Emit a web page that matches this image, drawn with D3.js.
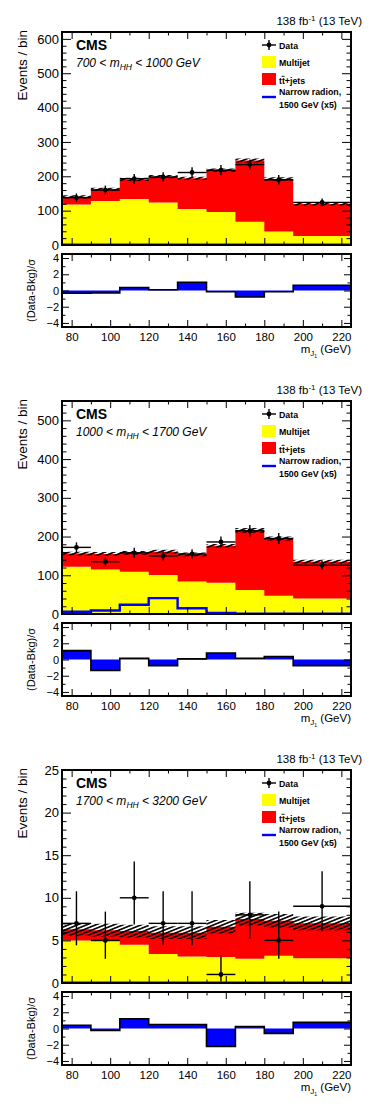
<!DOCTYPE html>
<html>
<head>
<meta charset="UTF-8">
<title>CMS m_J distributions</title>
<script src="https://d3js.org/d3.v7.min.js"></script>
<style>
    body { margin: 0; background: #fff; }
    svg { display: block; font-family: "Liberation Sans", Arial, Helvetica, sans-serif; }
    .axis path { display: none; }
    .axis line { stroke: #000; stroke-width: 1; }
    .axis text { fill: #000; font-family: "Liberation Sans", Arial, sans-serif; }
</style>
</head>
<body>
<svg id="chart" width="374" height="1109"></svg>
<script>
// ---------- data ----------
const binEdges = [75, 90, 105, 120, 135, 150, 165, 180, 195, 225];   // m_J bins (GeV)
const mhhRanges = [[700, 1000], [1000, 1700], [1700, 3200]];

// 700 < mHH < 1000
const multijetA = [118, 128, 134, 124, 105, 96, 68, 39, 26];
const ttbarA    = [22, 34, 57, 75, 89, 122, 178, 153, 93];
const bkgUncA   = [5, 5, 5, 5, 5, 5, 6, 5, 5];
const signalA   = [0.8, 0.8, 0.8, 0.8, 0.8, 0.8, 0.8, 0.8, 0.8];
const dataA     = [138, 160, 193, 198, 211, 218, 234, 190, 124];
const dataLoA   = [126, 147, 179, 184, 196, 203, 219, 176, 113];
const dataHiA   = [150, 173, 207, 212, 226, 233, 249, 204, 135];
const pullA     = [-0.33, -0.3, 0.37, 0.1, 1.02, -0.15, -0.8, -0.15, 0.65];

// 1000 < mHH < 1700
const multijetB = [122, 115, 109, 101, 84, 81, 62, 47, 40];
const ttbarB    = [34, 40, 49, 60, 70, 95, 154, 148, 95];
const bkgUncB   = [5, 5, 5, 5, 5, 5, 6, 5, 5];
const signalB   = [6, 9, 24, 41, 15, 3, 0.5, 0.5, 0.5];
const dataB     = [172, 135, 158, 150, 155, 186, 215, 195, 126];
const dataLoB   = [159, 123, 145, 138, 143, 172, 200, 181, 115];
const dataHiB   = [185, 147, 171, 162, 167, 200, 230, 209, 137];
const pullB     = [1.1, -1.35, 0.15, -0.75, 0.08, 0.8, 0.15, 0.37, -0.75];

// 1700 < mHH < 3200
const multijetC = [5.0, 4.9, 4.5, 3.4, 3.1, 3.05, 2.85, 3.2, 2.9];
const ttbarC    = [1.3, 1.3, 1.6, 2.5, 2.8, 3.55, 4.65, 4.1, 4.1];
const bkgUncC   = [0.75, 0.75, 0.75, 0.75, 0.75, 0.8, 0.75, 0.8, 0.8];
const signalC   = [0.03, 0.03, 0.03, 0.03, 0.03, 0.03, 0.03, 0.03, 0.03];
const dataC     = [7, 5, 10, 7, 7, 1, 8, 5, 9];
const dataLoC   = [4.42, 2.84, 6.89, 4.42, 4.42, 0.17, 5.23, 2.84, 6.06];
const dataHiC   = [10.77, 8.38, 14.27, 10.77, 10.77, 3.30, 11.95, 8.38, 13.11];
const pullC     = [0.4, -0.25, 1.2, 0.5, 0.5, -2.2, 0.25, -0.6, 0.75];

const yMaxList   = [620, 550, 25];
const yMajorStep = [100, 100, 5];
const yMinorStep = [20, 20, 1];

const panels = [
    { multijet: multijetA, ttbar: ttbarA, unc: bkgUncA, signal: signalA, data: dataA, lo: dataLoA, hi: dataHiA, pull: pullA },
    { multijet: multijetB, ttbar: ttbarB, unc: bkgUncB, signal: signalB, data: dataB, lo: dataLoB, hi: dataHiB, pull: pullB },
    { multijet: multijetC, ttbar: ttbarC, unc: bkgUncC, signal: signalC, data: dataC, lo: dataLoC, hi: dataHiC, pull: pullC }
];

// ---------- layout ----------
const left = 62, right = 351;
const mainTop = 32, mainBottom = 245;
const ratioTop = 254, ratioBottom = 327;
const panelStep = 369;

const svg = d3.select("#chart");
const defs = svg.append("defs");

// ROOT style hatch for the background uncertainty
defs.append("pattern")
    .attr("id", "hatch")
    .attr("patternUnits", "userSpaceOnUse")
    .attr("width", 8).attr("height", 3.4)
    .attr("patternTransform", "rotate(-22)")
    .append("line")
    .attr("x1", 0).attr("x2", 8).attr("y1", 1.7).attr("y2", 1.7)
    .attr("stroke", "#000").attr("stroke-width", 1.6);

// clip regions (same in every panel's local coordinates)
defs.append("clipPath").attr("id", "clipMain")
    .append("rect").attr("x", left).attr("y", mainTop)
    .attr("width", right - left).attr("height", mainBottom - mainTop);
defs.append("clipPath").attr("id", "clipRatio")
    .append("rect").attr("x", left).attr("y", ratioTop)
    .attr("width", right - left).attr("height", ratioBottom - ratioTop);

const x = d3.scaleLinear().domain([75, 225]).range([left, right]);
const yR = d3.scaleLinear().domain([-4.5, 4.5]).range([ratioBottom, ratioTop]);

// step points: one per bin edge, last value repeated at the right edge
function steps(lo, hi) {
    return binEdges.map((e, i) => {
        const j = Math.min(i, lo.length - 1);
        return { e: e, lo: lo[j], hi: hi ? hi[j] : null };
    });
}

function range(a, b, s) {
    const out = [];
    for (let v = a; v <= b + 1e-9; v += s) out.push(+v.toFixed(6));
    return out;
}

panels.forEach((p, k) => {
    const g = svg.append("g").attr("transform", `translate(0,${k * panelStep})`);
    const yMax = yMaxList[k];
    const y = d3.scaleLinear().domain([0, yMax]).range([mainBottom, mainTop]);
    const total = p.multijet.map((m, i) => m + p.ttbar[i]);
    const zero = p.multijet.map(() => 0);

    const plot = g.append("g").attr("clip-path", "url(#clipMain)");

    const area = d3.area()
        .x(d => x(d.e)).y0(d => y(d.lo)).y1(d => y(d.hi))
        .curve(d3.curveStepAfter);

    // stacked backgrounds
    plot.append("path").attr("d", area(steps(zero, p.multijet))).attr("fill", "#ffff00");
    plot.append("path").attr("d", area(steps(p.multijet, total))).attr("fill", "#ff0000");

    // uncertainty band
    const uLo = total.map((t, i) => t - p.unc[i]);
    const uHi = total.map((t, i) => t + p.unc[i]);
    plot.append("path").attr("d", area(steps(uLo, uHi))).attr("fill", "url(#hatch)");

    // signal
    const stepLine = d3.line().x(d => x(d.e)).y(d => y(d.lo)).curve(d3.curveStepAfter);
    plot.append("path").attr("d", stepLine(steps(p.signal)))
        .attr("fill", "none").attr("stroke", "#0000ff").attr("stroke-width", 2.4);

    // data
    const dg = g.append("g");
    p.data.forEach((v, i) => {
        const x0 = x(binEdges[i]), x1 = x(binEdges[i + 1]), xc = (x0 + x1) / 2;
        dg.append("line").attr("x1", x0).attr("x2", x1).attr("y1", y(v)).attr("y2", y(v))
            .attr("stroke", "#000").attr("stroke-width", 1.4);
        dg.append("line").attr("x1", xc).attr("x2", xc).attr("y1", y(p.lo[i])).attr("y2", y(p.hi[i]))
            .attr("stroke", "#000").attr("stroke-width", 1.4);
        dg.append("circle").attr("cx", xc).attr("cy", y(v)).attr("r", 2.4).attr("fill", "#000");
    });

    // axes of the main pad (no labels on x)
    const yMajor = range(0, yMax, yMajorStep[k]);
    const yMinor = range(0, yMax, yMinorStep[k]).filter(v => !yMajor.includes(v));
    const xMajor = range(80, 220, 20);
    const xMinor = range(80, 220, 10).filter(v => !xMajor.includes(v));

    g.append("g").attr("class", "axis").attr("transform", `translate(${left},0)`)
        .call(d3.axisLeft(y).tickValues(yMajor).tickSize(-9).tickPadding(3).tickFormat(d3.format("d")))
        .selectAll("text").style("font-size", "13px");
    g.append("g").attr("class", "axis").attr("transform", `translate(${left},0)`)
        .call(d3.axisLeft(y).tickValues(yMinor).tickSize(-4.5).tickFormat(""));
    g.append("g").attr("class", "axis").attr("transform", `translate(${right},0)`)
        .call(d3.axisRight(y).tickValues(yMajor).tickSize(-9).tickFormat(""));
    g.append("g").attr("class", "axis").attr("transform", `translate(${right},0)`)
        .call(d3.axisRight(y).tickValues(yMinor).tickSize(-4.5).tickFormat(""));
    [[mainBottom, d3.axisBottom], [mainTop, d3.axisTop]].forEach(([yy, ax]) => {
        g.append("g").attr("class", "axis").attr("transform", `translate(0,${yy})`)
            .call(ax(x).tickValues(xMajor).tickSize(-7).tickFormat(""));
        g.append("g").attr("class", "axis").attr("transform", `translate(0,${yy})`)
            .call(ax(x).tickValues(xMinor).tickSize(-3.5).tickFormat(""));
    });

    g.append("rect").attr("x", left).attr("y", mainTop)
        .attr("width", right - left).attr("height", mainBottom - mainTop)
        .attr("fill", "none").attr("stroke", "#000").attr("stroke-width", 2);

    // ---------- ratio pad ----------
    const rplot = g.append("g").attr("clip-path", "url(#clipRatio)");
    const rArea = d3.area().x(d => x(d.e)).y0(yR(0)).y1(d => yR(d.lo)).curve(d3.curveStepAfter);
    const rLine = d3.line().x(d => x(d.e)).y(d => yR(d.lo)).curve(d3.curveStepAfter);
    rplot.append("path").attr("d", rArea(steps(p.pull))).attr("fill", "#0000ff");
    rplot.append("path").attr("d", rLine(steps(p.pull)))
        .attr("fill", "none").attr("stroke", "#000").attr("stroke-width", 1.6);

    const rMajor = [-4, -2, 0, 2, 4];
    const rMinor = [-3, -1, 1, 3];
    g.append("g").attr("class", "axis").attr("transform", `translate(${left},0)`)
        .call(d3.axisLeft(yR).tickValues(rMajor).tickSize(-7).tickPadding(3).tickFormat(d3.format("d")))
        .selectAll("text").style("font-size", "11px");
    g.append("g").attr("class", "axis").attr("transform", `translate(${left},0)`)
        .call(d3.axisLeft(yR).tickValues(rMinor).tickSize(-3.5).tickFormat(""));
    g.append("g").attr("class", "axis").attr("transform", `translate(${right},0)`)
        .call(d3.axisRight(yR).tickValues(rMajor).tickSize(-7).tickFormat(""));
    g.append("g").attr("class", "axis").attr("transform", `translate(${right},0)`)
        .call(d3.axisRight(yR).tickValues(rMinor).tickSize(-3.5).tickFormat(""));
    g.append("g").attr("class", "axis").attr("transform", `translate(0,${ratioBottom})`)
        .call(d3.axisBottom(x).tickValues(xMajor).tickSize(-7).tickPadding(6).tickFormat(d3.format("d")))
        .selectAll("text").style("font-size", "11.5px");
    g.append("g").attr("class", "axis").attr("transform", `translate(0,${ratioBottom})`)
        .call(d3.axisBottom(x).tickValues(xMinor).tickSize(-3.5).tickFormat(""));
    g.append("g").attr("class", "axis").attr("transform", `translate(0,${ratioTop})`)
        .call(d3.axisTop(x).tickValues(xMajor).tickSize(-7).tickFormat(""));
    g.append("g").attr("class", "axis").attr("transform", `translate(0,${ratioTop})`)
        .call(d3.axisTop(x).tickValues(xMinor).tickSize(-3.5).tickFormat(""));

    g.append("rect").attr("x", left).attr("y", ratioTop)
        .attr("width", right - left).attr("height", ratioBottom - ratioTop)
        .attr("fill", "none").attr("stroke", "#000").attr("stroke-width", 2);

    // ---------- texts ----------
    const lumi = g.append("text").attr("x", 362).attr("y", 25).attr("text-anchor", "end")
        .style("font-size", "11.5px");
    lumi.append("tspan").text("138 fb");
    lumi.append("tspan").attr("dy", -4).style("font-size", "8px").text("-1");
    lumi.append("tspan").attr("dy", 4).text(" (13 TeV)");

    g.append("text").attr("transform", "translate(27,30) rotate(-90)")
        .attr("text-anchor", "end").style("font-size", "13.5px").text("Events / bin");

    g.append("text").attr("transform", `translate(35,${(ratioTop + ratioBottom) / 2}) rotate(-90)`)
        .attr("text-anchor", "middle").style("font-size", "11px").text("(Data-Bkg)/σ");

    const xt = g.append("text").attr("x", 351).attr("y", 353).attr("text-anchor", "end")
        .style("font-size", "11.5px");
    xt.append("tspan").text("m");
    xt.append("tspan").attr("dy", 3).style("font-size", "8px").text("J");
    xt.append("tspan").attr("dy", 2).style("font-size", "5px").text("1");
    xt.append("tspan").attr("dy", -5).text(" (GeV)");

    g.append("text").attr("x", 76).attr("y", 50).style("font-size", "14px")
        .style("font-weight", "bold").text("CMS");

    const cat = g.append("text").attr("x", 76).attr("y", 67).style("font-size", "12px")
        .style("font-style", "italic");
    cat.append("tspan").text(`${mhhRanges[k][0]} < m`);
    cat.append("tspan").attr("dy", 3).style("font-size", "8.5px").text("HH");
    cat.append("tspan").attr("dy", -3).text(` < ${mhhRanges[k][1]} GeV`);

    // legend
    const lg = g.append("g").style("font-size", "8.8px").style("font-weight", "bold");
    const lx = 262, lw = 14, tx = 279;
    lg.append("line").attr("x1", lx).attr("x2", lx + lw).attr("y1", 45).attr("y2", 45)
        .attr("stroke", "#000").attr("stroke-width", 1.4);
    lg.append("line").attr("x1", lx + lw / 2).attr("x2", lx + lw / 2).attr("y1", 40).attr("y2", 50)
        .attr("stroke", "#000").attr("stroke-width", 1.4);
    lg.append("circle").attr("cx", lx + lw / 2).attr("cy", 45).attr("r", 2.4).attr("fill", "#000");
    lg.append("text").attr("x", tx).attr("y", 48.5).text("Data");

    lg.append("rect").attr("x", lx).attr("y", 56).attr("width", lw).attr("height", 12).attr("fill", "#ffff00");
    lg.append("text").attr("x", tx).attr("y", 66).text("Multijet");

    lg.append("rect").attr("x", lx).attr("y", 73).attr("width", lw).attr("height", 12).attr("fill", "#ff0000");
    const ttTxt = lg.append("text").attr("x", tx).attr("y", 84);
    ttTxt.append("tspan").text("tt");
    ttTxt.append("tspan").text("+jets");
    // bar over the second t
    lg.append("line").attr("x1", tx + 2.6).attr("x2", tx + 5.6).attr("y1", 76.3).attr("y2", 76.3)
        .attr("stroke", "#000").attr("stroke-width", 0.9);

    lg.append("line").attr("x1", lx).attr("x2", lx + lw).attr("y1", 97).attr("y2", 97)
        .attr("stroke", "#0000ff").attr("stroke-width", 2.4);
    lg.append("text").attr("x", tx).attr("y", 95).text("Narrow radion,");
    lg.append("text").attr("x", tx).attr("y", 107.5).text("1500 GeV (x5)");
});
</script>
</body>
</html>
